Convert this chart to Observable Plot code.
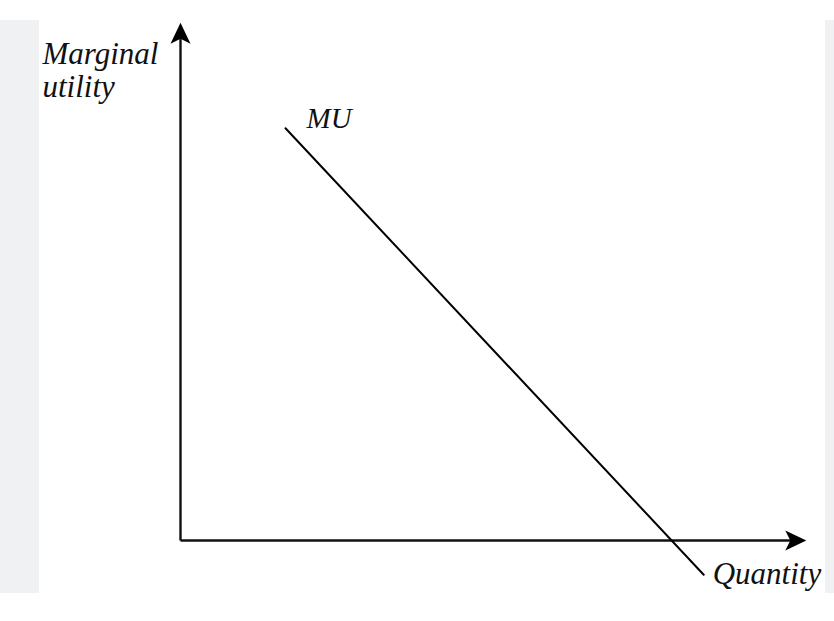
<!DOCTYPE html>
<html>
<head>
<meta charset="utf-8">
<script src="https://cdn.jsdelivr.net/npm/d3@7"></script>
<script src="https://cdn.jsdelivr.net/npm/@observablehq/plot@0.6"></script>
<style>
  html, body { margin: 0; padding: 0; background: #fff; }
  #wrap { position: relative; width: 834px; height: 621px; overflow: hidden; }
  .strip { position: absolute; background: #f0f1f3; }
  #chart { position: absolute; left: 0; top: 0; }
  #chart svg { background: transparent !important; }
</style>
</head>
<body>
<div id="wrap">
  <div class="strip" style="left:0;top:20px;width:39px;height:573px"></div>
  <div class="strip" style="left:825px;top:20px;width:9px;height:573px"></div>
  <div id="chart"></div>
</div>
<script>
// Axes (data units: quantity, marginal utility)
const axisOrigin = {q: 0, mu: 0};
const quantityAxisEnd = 10.43;
const utilityAxisEnd = 8.63;

// Marginal utility curve (straight, downward sloping)
const muQuantity = [1.75, 8.72];
const muUtility  = [6.87, -0.57];

// Labels
const labelTexts = ["Marginal\nutility", "MU", "Quantity"];
const labelQ = [-2.3, 2.1, 8.87];
const labelU = [7.4, 6.87, -0.72];

const muData = muQuantity.map((q, i) => ({q, mu: muUtility[i]}));
const axes = [
  {x1: axisOrigin.q, y1: axisOrigin.mu, x2: quantityAxisEnd - 0.15, y2: axisOrigin.mu},
  {x1: axisOrigin.q, y1: axisOrigin.mu, x2: axisOrigin.q, y2: utilityAxisEnd - 0.15}
];
const heads = [
  {x: quantityAxisEnd, y: axisOrigin.mu, rot: 90},
  {x: axisOrigin.q, y: utilityAxisEnd, rot: 0}
];
const labels = labelTexts.map((t, i) => ({t, q: labelQ[i], mu: labelU[i]}));

// Filled notched arrowhead with tip at origin, pointing up
const arrowHead = {
  draw(ctx, size) {
    const r = Math.sqrt(size / Math.PI);
    const w = r, len = r * 2.1, notch = r * 1.6;
    ctx.moveTo(0, 0);
    ctx.lineTo(w, len);
    ctx.lineTo(0, notch);
    ctx.lineTo(-w, len);
    ctx.closePath();
  }
};

const font = "'Liberation Serif', 'Times New Roman', serif";

const chart = Plot.plot({
  width: 834,
  height: 621,
  margin: 0,
  style: {background: "transparent"},
  x: {domain: [-3, 10.9], axis: null},
  y: {domain: [-1.35, 9], axis: null},
  marks: [
    Plot.link(axes, {x1: "x1", y1: "y1", x2: "x2", y2: "y2", stroke: "#111", strokeWidth: 2.4}),
    Plot.dot(heads, {x: "x", y: "y", rotate: "rot", symbol: arrowHead, r: 10, fill: "#000", stroke: "none"}),
    Plot.line(muData, {x: "q", y: "mu", stroke: "#000", strokeWidth: 2}),
    Plot.text(labels, {
      x: "q", y: "mu", text: "t",
      textAnchor: "start", lineAnchor: "bottom",
      fontFamily: font, fontStyle: "italic",
      fontSize: (d) => d.t === "MU" ? 29 : 31,
      lineHeight: 1.05,
      fill: "#111"
    })
  ]
});
document.getElementById("chart").appendChild(chart);
</script>
</body>
</html>
